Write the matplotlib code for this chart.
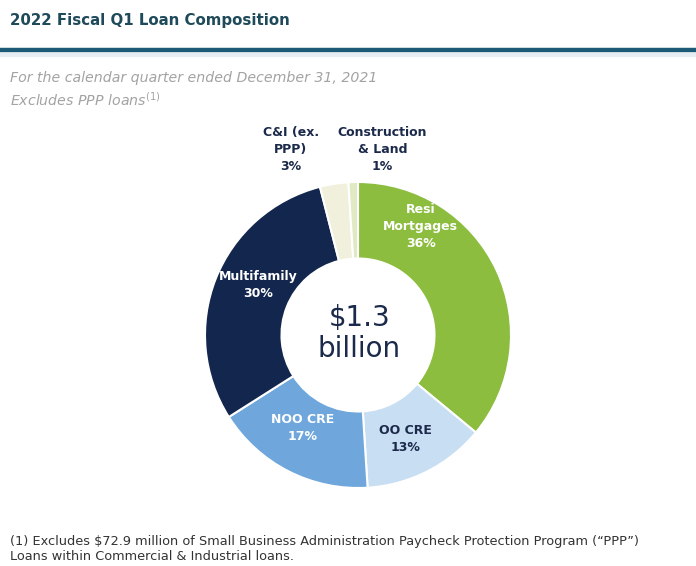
import matplotlib
matplotlib.use("Agg")
import matplotlib.pyplot as plt
from matplotlib.lines import Line2D

# Loan composition, share of total (%), clockwise from 12 o'clock
segments = ["Resi\nMortgages", "OO CRE", "NOO CRE", "Multifamily",
            "C&I (ex.\nPPP)", "Construction\n& Land"]
shares = [36, 13, 17, 30, 3, 1]
colors = ["#8cbd3f", "#c8def3", "#6fa7dc", "#13264d", "#f1f0dc", "#dfe9c4"]
text_colors = ["white", "#1b2a4a", "white", "white", "#1b2a4a", "#1b2a4a"]
total_label = "$1.3\nbillion"

# label anchor points in pie data units
label_xy = [(0.41, 0.71), (0.31, -0.68), (-0.36, -0.61), (-0.65, 0.33),
            (-0.44, 1.21), (0.16, 1.21)]

fig = plt.figure(figsize=(6.96, 5.66), dpi=100)
fig.patch.set_facecolor("white")

W, H = 696, 566
cx, cy, r = 358, 335, 153
ax = fig.add_axes([(cx - r) / W, (H - cy - r) / H, 2 * r / W, 2 * r / H])

wedges, _ = ax.pie(shares, colors=colors, startangle=90, counterclock=False,
                   radius=1.0,
                   wedgeprops=dict(width=0.5, edgecolor="white", linewidth=1.5))
ax.set_xlim(-1, 1)
ax.set_ylim(-1, 1)
ax.set_aspect("equal")
ax.axis("off")

for name, pct, (x, y), tc in zip(segments, shares, label_xy, text_colors):
    ax.text(x, y, f"{name}\n{pct}%", ha="center", va="center", color=tc,
            fontsize=9, fontweight="bold", linespacing=1.4, clip_on=False)

ax.text(0.01, 0.01, total_label, ha="center", va="center", color="#1b2a4a",
        fontsize=20, linespacing=1.15)

# header
fig.text(10 / W, 1 - 20 / H, "2022 Fiscal Q1 Loan Composition", ha="left",
         va="center", fontsize=10.8, fontweight="bold", color="#1f4a5a")
fig.add_artist(Line2D([0, 1], [1 - 50 / H] * 2, color="#1d5a78", lw=3.2,
                      transform=fig.transFigure))
fig.add_artist(Line2D([0, 1], [1 - 55 / H] * 2, color="#e6eef3", lw=3,
                      transform=fig.transFigure))

fig.text(10 / W, 1 - 78 / H, "For the calendar quarter ended December 31, 2021",
         ha="left", va="center", fontsize=10.2, fontstyle="italic",
         color="#a3a3a3")
fig.text(10 / W, 1 - 100 / H, "Excludes PPP loans$^{(1)}$",
         ha="left", va="center", fontsize=10.2, fontstyle="italic",
         color="#a3a3a3")

fig.text(10 / W, 1 - 549 / H,
         "(1) Excludes $72.9 million of Small Business Administration Paycheck "
         "Protection Program (\u201cPPP\u201d)\nLoans within Commercial & "
         "Industrial loans.",
         ha="left", va="center", fontsize=9.3, color="#333333", linespacing=1.25)

fig.savefig("out.png", dpi=100)
